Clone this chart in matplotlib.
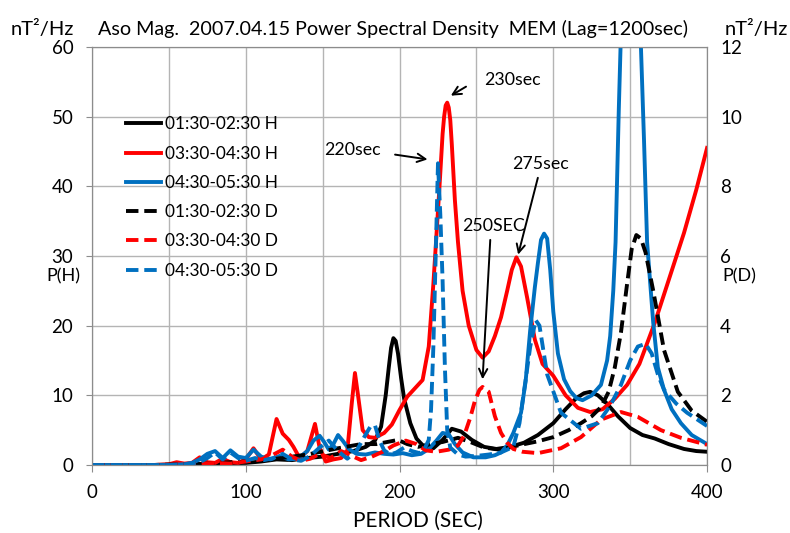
"""Aso magnetometer MEM power spectral density, 2007.04.15."""

import matplotlib
matplotlib.use('Agg')
import matplotlib.pyplot as plt
from matplotlib.ticker import MultipleLocator

plt.rcParams['font.family'] = ['Lato', 'DejaVu Sans']
plt.rcParams['font.size'] = 12

# ---- data (period in sec, H in nT^2/Hz on left axis, D on right axis) ----
labels = ['01:30-02:30 H', '03:30-04:30 H', '04:30-05:30 H',
          '01:30-02:30 D', '03:30-04:30 D', '04:30-05:30 D']

h1_x = [0, 20, 40, 60, 80, 100, 110, 120, 130, 140, 150, 160, 170, 178, 184, 188, 191, 193, 194.5, 196,
        197.5, 199, 201, 203, 207, 211, 216, 222, 228, 234, 240, 247, 255, 263, 272, 281, 290, 300, 308,
        315, 320, 324, 329, 335, 342, 350, 358, 366, 375, 385, 393, 400]
h1_y = [0, 0, 0, 0.1, 0.2, 0.3, 0.5, 0.8, 0.7, 1.0, 1.2, 1.6, 2.0, 2.6, 3.5, 5.5, 10, 14, 16.8, 18.2,
        17.8, 16, 12.5, 9.5, 6.0, 3.8, 2.6, 2.4, 3.6, 5.2, 4.8, 3.6, 2.6, 2.3, 2.6, 3.2, 4.3, 6.0, 8.0,
        9.6, 10.3, 10.5, 10.0, 8.8, 7.0, 5.3, 4.3, 3.8, 3.0, 2.3, 2.0, 1.9]

h2_x = [0, 40, 50, 55, 60, 65, 70, 75, 80, 85, 90, 95, 100, 105, 110, 115, 120, 124, 128, 131, 135,
        140, 145, 148, 152, 157, 162, 166, 169, 171, 173, 176, 180, 184, 190, 195, 200, 205, 210, 215,
        219, 222, 224, 226, 228, 229, 230, 231, 232, 233, 234, 236, 238, 241, 245, 250, 254, 258, 262,
        266, 270, 273, 276, 279, 283, 288, 293, 300, 308, 316, 324, 332, 340, 348, 356, 366, 375, 385,
        393, 400]
h2_y = [0, 0, 0.1, 0.4, 0.2, 0.3, 1.1, 0.4, 0.3, 0.9, 0.4, 0.3, 0.8, 2.4, 0.8, 1.5, 6.6, 4.5, 3.6, 2.6,
        1.0, 2.0, 5.9, 2.5, 0.5, 0.8, 1.0, 2.0, 9.0, 13.2, 10.0, 5.0, 4.0, 3.9, 4.6, 5.8, 7.9, 9.8, 11.0,
        12.2, 17, 26, 33, 40, 47.5, 50, 51.6, 52, 51.3, 49.5, 46, 38, 32, 25, 20, 16.5, 15.4, 16.3, 18.5,
        21.2, 25, 28, 29.8, 28.5, 24, 18, 14.5, 12.8, 10, 8.2, 7.6, 8, 9.5, 11.5, 14.5, 20.4, 26.5,
        33.3, 39.5, 45.5]

h3_x = [0, 50, 60, 65, 70, 75, 80, 85, 90, 95, 100, 105, 110, 116, 122, 128, 134, 140, 144, 148, 151,
        154, 157, 160, 163, 167, 172, 178, 184, 190, 196, 202, 208, 214, 219, 224, 228, 232, 236, 241,
        248, 256, 262, 266, 270, 274, 279, 282, 285, 288, 290, 292, 294, 296, 298, 300, 303, 307, 311,
        315, 319, 325, 331, 335, 337, 339, 340.5, 342.6, 344, 347, 350, 353, 356, 357, 359, 361, 365,
        368, 372, 377, 383, 390, 400]
h3_y = [0, 0, 0.1, 0.3, 0.8, 1.6, 2.0, 1.0, 2.1, 1.2, 1.0, 2.2, 1.2, 0.8, 1.3, 0.8, 0.9, 2.0, 3.5, 4.2,
        3.3, 2.2, 3.0, 4.3, 3.5, 2.3, 1.6, 1.5, 1.8, 1.6, 1.5, 1.7, 1.4, 1.6, 2.3, 3.5, 4.6, 4.4, 3.0,
        1.8, 1.1, 1.1, 1.4, 1.8, 2.8, 4.6, 7.5, 12, 19.4, 25.5, 29, 32.3, 33.2, 32.5, 28, 22, 16, 12.3,
        10.6, 9.6, 9.3, 10, 11.5, 15, 18.5, 25, 32, 51, 62, 100, 140, 110, 66, 60, 46.6, 32, 20.4, 14,
        10.8, 8, 6, 4.3, 3.0]

d1_x = [0, 40, 60, 80, 100, 120, 140, 160, 175, 185, 192, 199, 205, 212, 220, 228, 238, 246, 255, 265,
        279, 290, 300, 310, 318, 325, 331, 336, 340, 344, 348, 351, 354, 357, 360, 365, 372, 381, 390, 400]
d1_y = [0, 0, 0.02, 0.06, 0.1, 0.18, 0.3, 0.48, 0.6, 0.6, 0.66, 0.72, 0.6, 0.52, 0.6, 0.66, 0.78, 0.66,
        0.5, 0.44, 0.58, 0.68, 0.8, 1.0, 1.2, 1.4, 1.66, 2.1, 2.8, 3.8, 5.2, 6.2, 6.6, 6.5, 6.1, 5.0,
        3.3, 2.1, 1.56, 1.24]

d2_x = [0, 50, 60, 70, 80, 90, 100, 110, 118, 124, 130, 136, 142, 148, 155, 162, 168, 175, 182, 190,
        196, 204, 211, 217, 224, 232, 238, 242, 246, 249, 252, 254, 256, 258, 262, 266, 270, 274, 280,
        290, 305, 318, 331, 344, 355, 370, 383, 400]
d2_y = [0, 0, 0.02, 0.04, 0.06, 0.04, 0.1, 0.16, 0.3, 0.44, 0.24, 0.12, 0.18, 0.32, 0.2, 0.4, 0.28,
        0.14, 0.24, 0.4, 0.56, 0.7, 0.6, 0.42, 0.38, 0.44, 0.56, 0.84, 1.36, 1.84, 2.16, 2.24, 2.16,
        2.1, 1.4, 0.92, 0.64, 0.46, 0.38, 0.34, 0.48, 0.8, 1.3, 1.52, 1.38, 1.0, 0.78, 0.58]

d3_x = [0, 50, 60, 70, 75, 80, 85, 90, 95, 100, 106, 112, 118, 124, 130, 136, 142, 148, 154, 160, 166,
        172, 177, 181, 184, 187, 190, 194, 198, 203, 208, 213, 216, 219, 220.5, 222, 223.5, 225, 226.5,
        228, 229.5, 231, 233, 238, 243, 250, 258, 266, 274, 278, 282, 285, 288.5, 291, 296, 305, 318,
        329, 337, 344, 350, 355, 360, 364, 368, 372, 380, 387, 400]
d3_y = [0, 0, 0.02, 0.08, 0.2, 0.36, 0.16, 0.36, 0.2, 0.12, 0.2, 0.14, 0.2, 0.32, 0.16, 0.12, 0.26,
        0.5, 0.7, 0.4, 0.18, 0.4, 0.8, 1.1, 1.14, 0.7, 0.42, 0.3, 0.36, 0.5, 0.4, 0.34, 0.44, 0.72,
        1.6, 3.4, 6.0, 8.66, 7.2, 5.3, 2.8, 1.0, 0.5, 0.3, 0.24, 0.26, 0.3, 0.36, 0.52, 1.2, 2.44, 3.4,
        4.16, 4.0, 2.6, 1.5, 1.04, 1.2, 1.7, 2.3, 3.0, 3.4, 3.48, 3.2, 2.6, 2.16, 1.76, 1.5, 1.12]

BLACK, RED, BLUE = '#000000', '#ff0000', '#0070c0'
LW = 2.8
DASH = (3.2, 1.5)

fig = plt.figure(figsize=(7.9, 5.33), dpi=100)
ax = fig.add_axes([0.1165, 0.1276, 0.7785, 0.7844])
ax2 = ax.twinx()

style = dict(lw=LW, solid_joinstyle='round', dash_joinstyle='round')
l1, = ax.plot(h1_x, h1_y, color=BLACK, label=labels[0], **style)
l2, = ax.plot(h2_x, h2_y, color=RED, label=labels[1], **style)
l3, = ax.plot(h3_x, h3_y, color=BLUE, label=labels[2], **style)
l4, = ax2.plot(d1_x, d1_y, color=BLACK, dashes=DASH, label=labels[3], **style)
l5, = ax2.plot(d2_x, d2_y, color=RED, dashes=DASH, label=labels[4], **style)
l6, = ax2.plot(d3_x, d3_y, color=BLUE, dashes=DASH, label=labels[5], **style)

ax.set_xlim(0, 400)
ax.set_ylim(0, 60)
ax2.set_ylim(0, 12)
ax.xaxis.set_major_locator(MultipleLocator(100))
ax.xaxis.set_minor_locator(MultipleLocator(50))
ax.yaxis.set_major_locator(MultipleLocator(10))
ax2.yaxis.set_major_locator(MultipleLocator(2))

grid_c = '#b4b4b4'
ax.grid(True, which='both', color=grid_c, lw=1.0)
ax.set_axisbelow(True)
for a in (ax, ax2):
    for s in a.spines.values():
        s.set_color('#8c8c8c')
ax.tick_params(axis='x', which='major', length=5, color='#8c8c8c', labelsize=13.5, pad=9)
ax.tick_params(axis='x', which='minor', length=0)
ax.tick_params(axis='y', length=4.5, color='#8c8c8c', labelsize=13.5, pad=9)
ax2.tick_params(axis='y', length=0, labelsize=13.5, pad=9.5)

fig.text(0.529, 0.0225, 'PERIOD (SEC)', ha='center', va='center', fontsize=15)
fig.text(0.054, 0.946, 'nT²/Hz', ha='center', va='center', fontsize=14.5)
fig.text(0.957, 0.946, 'nT²/Hz', ha='center', va='center', fontsize=14.5)
fig.text(0.497, 0.946, 'Aso Mag.  2007.04.15 Power Spectral Density  MEM (Lag=1200sec)',
         ha='center', va='center', fontsize=14.2)
fig.text(0.080, 0.482, 'P(H)', ha='center', va='center', fontsize=13)
fig.text(0.936, 0.482, 'P(D)', ha='center', va='center', fontsize=13)

# peak annotations
arrow = dict(arrowstyle='->', color='black', lw=1.4, mutation_scale=15)
ax.annotate('', xy=(231.8, 52.8), xytext=(244.8, 54.5), arrowprops=arrow)
ax.text(273.4, 55.2, '230sec', ha='center', va='center', fontsize=12.8)
ax.annotate('', xy=(220, 43.8), xytext=(195.3, 44.6), arrowprops=arrow)
ax.text(169.3, 45.2, '220sec', ha='center', va='center', fontsize=12.8)
ax.annotate('', xy=(276.7, 29.8), xytext=(290.4, 41.6), arrowprops=arrow)
ax.text(291.7, 43.2, '275sec', ha='center', va='center', fontsize=12.8)
ax.annotate('', xy=(253.9, 11.9), xytext=(259.1, 32.7), arrowprops=arrow)
ax.text(261, 34.3, '250SEC', ha='center', va='center', fontsize=12.8)

ax2.legend(handles=[l1, l2, l3, l4, l5, l6], loc='upper left', bbox_to_anchor=(0.056, 0.834),
           frameon=False, fontsize=12.4, handlelength=2.0, handletextpad=0.22,
           labelspacing=0.77, borderpad=0, borderaxespad=0)

fig.savefig('out.png', dpi=100)
